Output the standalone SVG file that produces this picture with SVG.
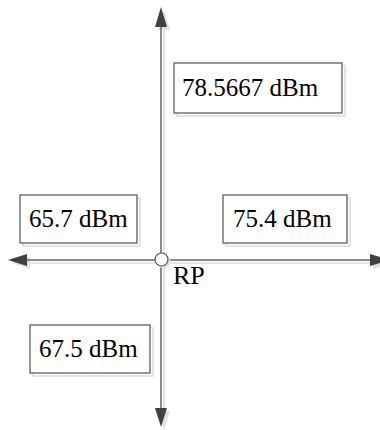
<svg xmlns="http://www.w3.org/2000/svg" width="380" height="430" viewBox="0 0 380 430">
<style>
.box{fill:#fff;stroke:#505050;stroke-width:1.2}
.sh{fill:none;stroke:#e4e4e4;stroke-width:2}
.ax{stroke:#666;stroke-width:1.5;fill:none}
.axs{stroke:#e6e6e6;stroke-width:2;fill:none}
.hd{fill:#404040}
.hds{fill:#e0e0e0}
text{font-family:"Liberation Serif","Times New Roman",serif;font-size:25px;fill:#000}
</style>
<rect width="380" height="430" fill="#fff"/>
<g id="connectors">
<line class="axs" x1="164" y1="26" x2="164" y2="408"/>
<line class="axs" x1="27" y1="263" x2="370" y2="263"/>
<polygon class="hds" points="164,10 170,30 158,30"/>
<polygon class="hds" points="164,430 170,411 158,411"/>
<polygon class="hds" points="12,263 30,257 30,269"/>
<polygon class="hds" points="392,263 373,257 373,269"/>
<line class="ax" x1="161" y1="25" x2="161" y2="409"/>
<line class="ax" x1="26" y1="260" x2="371" y2="260"/>
<polygon class="hd" points="161,7 167,27 155,27"/>
<polygon class="hd" points="161,427 167,408 155,408"/>
<polygon class="hd" points="8,260 27,254 27,266"/>
<polygon class="hd" points="390,260 370,254 370,266"/>
</g>
<g id="RP">
<circle cx="164" cy="262" r="6.5" fill="#e2e2e2"/>
<circle cx="161.5" cy="259.5" r="6.5" fill="#fff" stroke="#555" stroke-width="1.2"/>
<text x="173" y="284" style="font-size:26px">RP</text>
</g>
<g id="n1">
<rect class="sh" x="177" y="66" width="168" height="50"/>
<rect class="box" x="174" y="63" width="168" height="50"/>
<text x="182" y="96">78.5667 dBm</text>
</g>
<g id="n2">
<rect class="sh" x="23" y="198" width="117" height="48"/>
<rect class="box" x="20" y="195" width="117" height="48"/>
<text x="29" y="227">65.7 dBm</text>
</g>
<g id="n3">
<rect class="sh" x="226" y="198" width="124" height="48"/>
<rect class="box" x="223" y="195" width="124" height="48"/>
<text x="233" y="227">75.4 dBm</text>
</g>
<g id="n4">
<rect class="sh" x="33" y="328" width="120" height="48"/>
<rect class="box" x="30" y="325" width="120" height="48"/>
<text x="39" y="357">67.5 dBm</text>
</g>
</svg>
